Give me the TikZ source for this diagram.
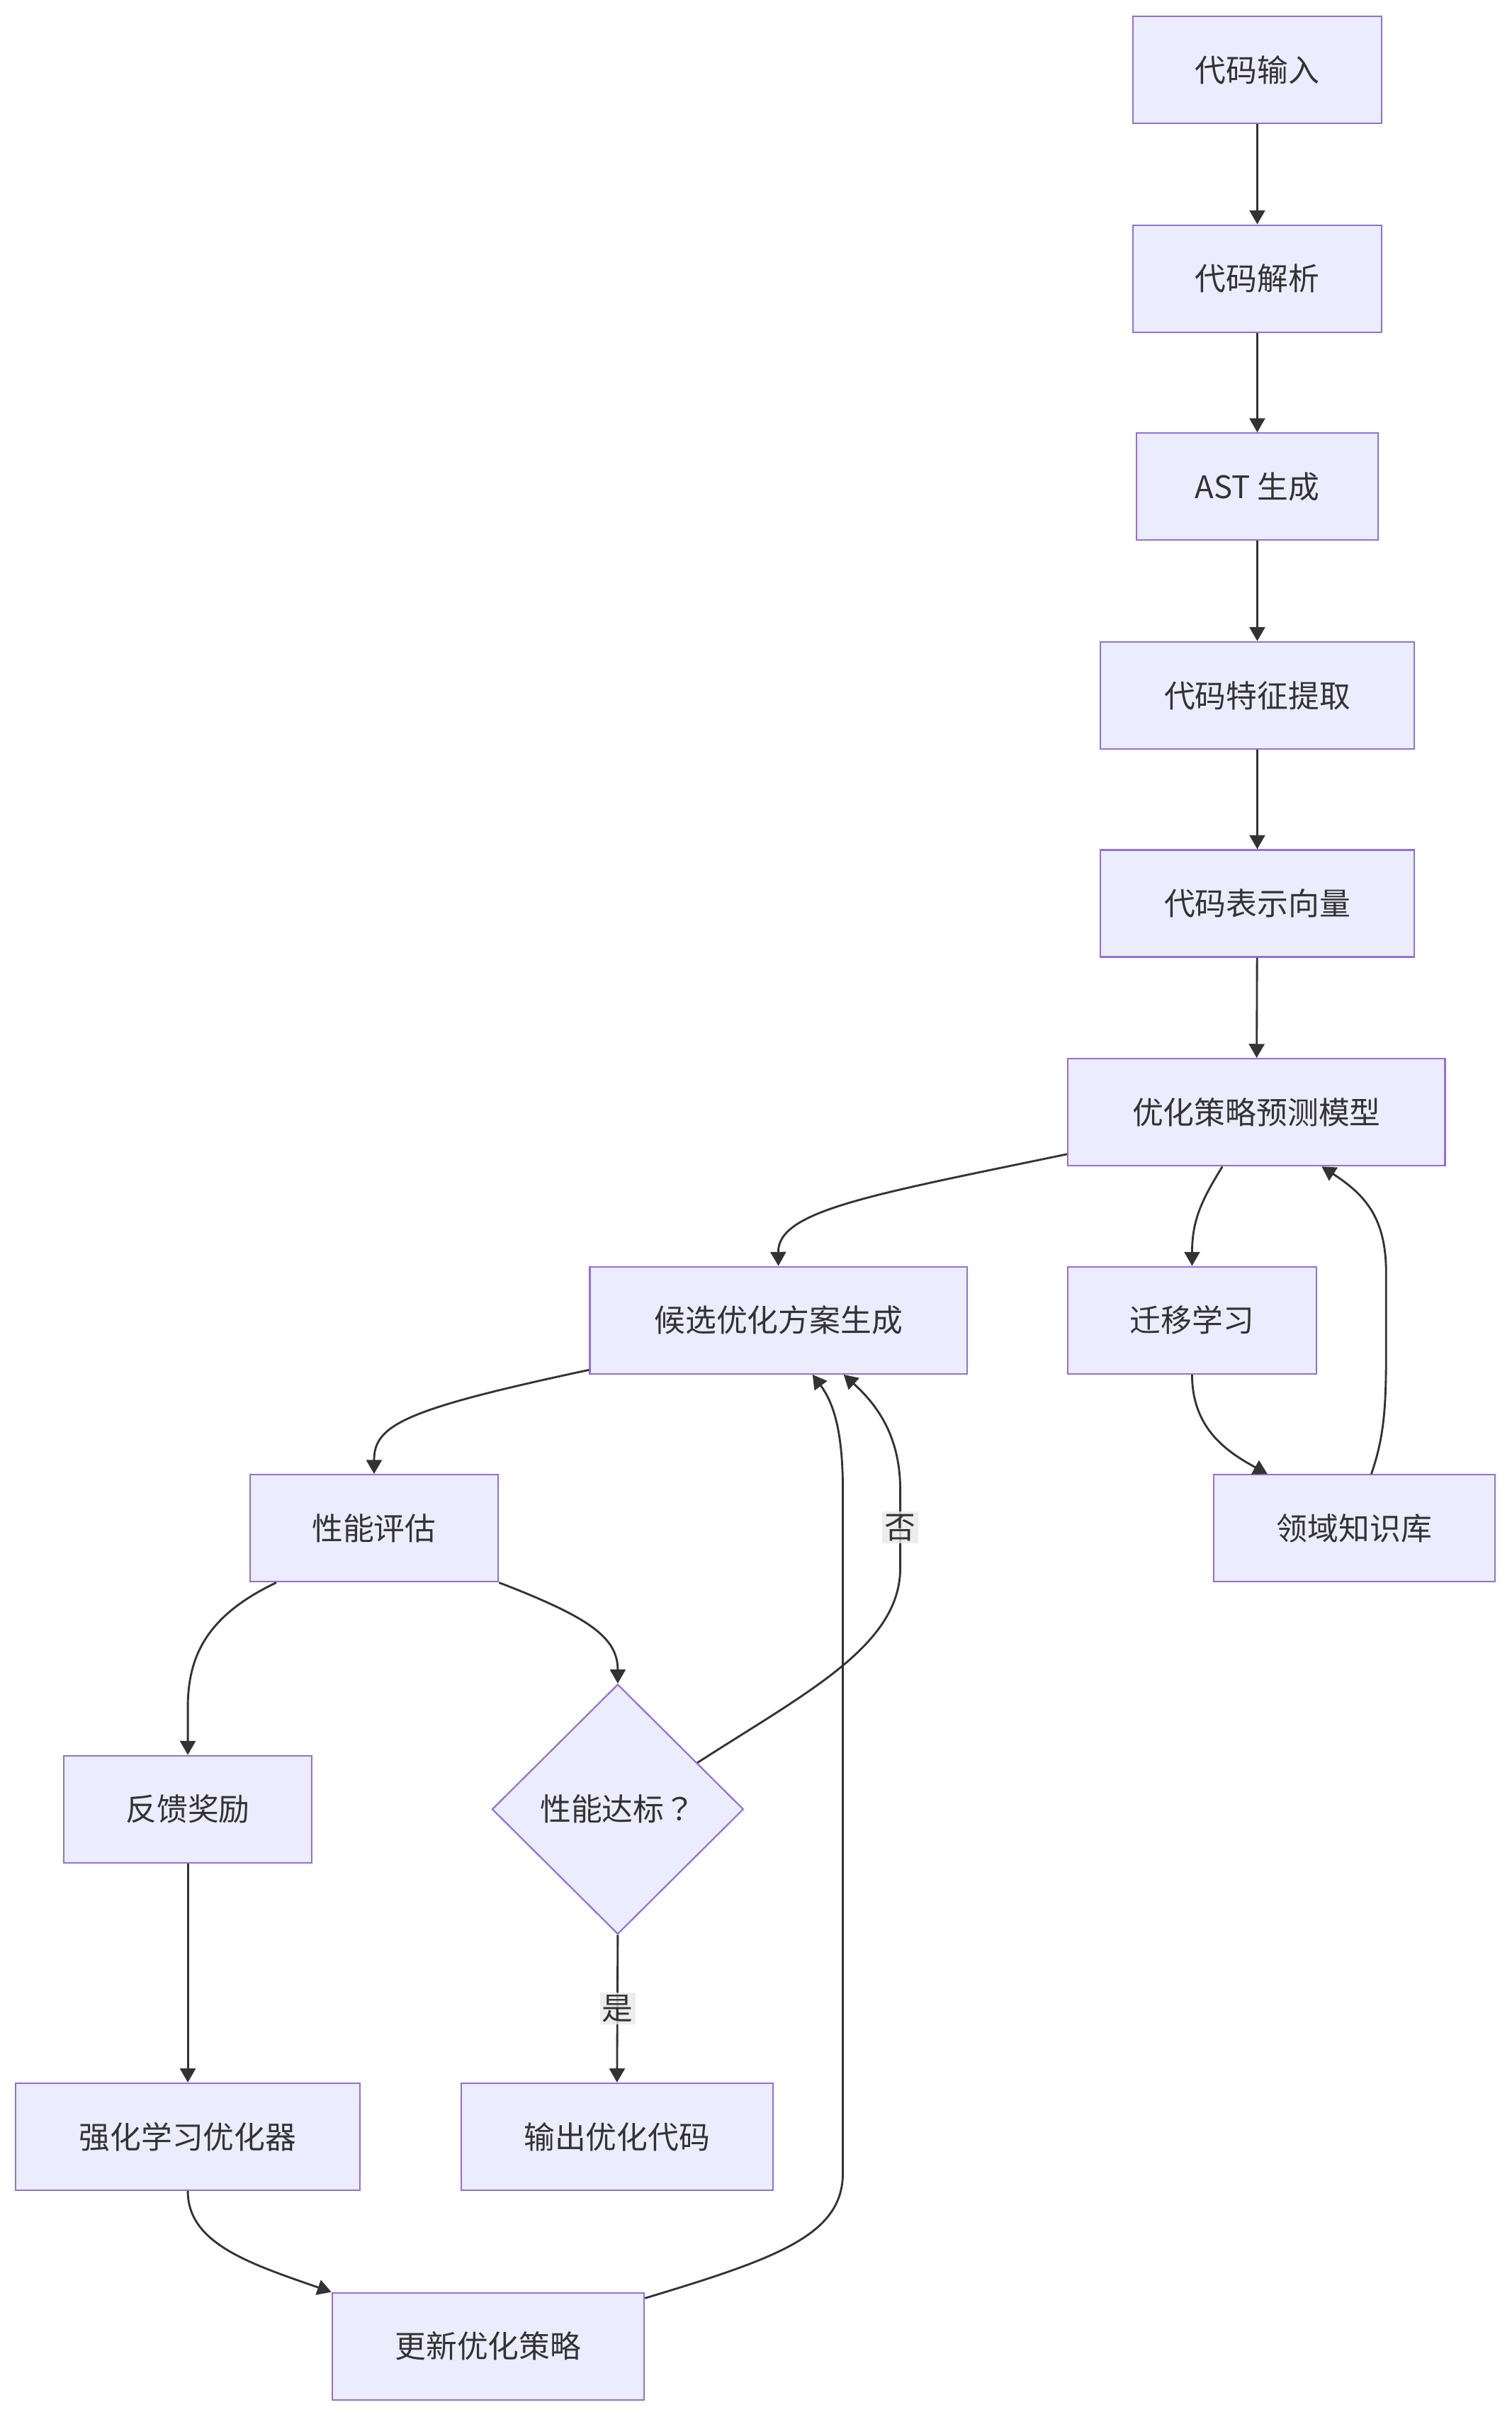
\documentclass[tikz,border=0pt]{standalone}
\usepackage{fontspec}
\setmainfont{Noto Sans CJK SC}
\newfontfamily\tcfont{Noto Sans CJK TC}
\usetikzlibrary{shapes.geometric,arrows.meta,calc}
\definecolor{nodefill}{HTML}{ECECFF}
\definecolor{nodeline}{HTML}{9370DB}
\definecolor{edgecol}{HTML}{333333}
\definecolor{lblfill}{HTML}{E8E8E8}
\begin{document}
\begin{tikzpicture}[x=1pt,y=-1pt,
  box/.style={draw=nodeline, fill=nodefill, line width=1pt, text=edgecol,
    font=\fontsize{20}{24}\selectfont, inner sep=0pt, minimum height=69pt},
  dia/.style={diamond, draw=nodeline, fill=nodefill, line width=1pt, text=edgecol,
    font=\fontsize{20}{24}\selectfont, inner sep=0pt, minimum width=162pt, minimum height=161pt},
  edge/.style={draw=edgecol, line width=1.3pt, -{Triangle[length=9pt,width=10pt]}},
  lbl/.style={fill=lblfill, fill opacity=0.8, text opacity=1, text=edgecol,
    font=\fontsize{20}{24}\selectfont, inner sep=1.5pt}]
\useasboundingbox (0,0) rectangle (974,1568);
\node[box, minimum width=160pt] (n1) at (810,45) {代码输入};
\node[box, minimum width=160pt] (n2) at (810,179.5) {代码解析};
\node[box, minimum width=156pt] (n3) at (810,313.5) {AST 生成};
\node[box, minimum width=202pt] (n4) at (810,448) {代码特征提取};
\node[box, minimum width=202pt] (n5) at (810,582) {代码表示向量};
\node[box, minimum width=243pt] (n6) at (809.5,716.5) {优化策略预测模型};
\node[box, minimum width=243pt] (n7) at (501.5,850.5) {候选优化方案生成};
\node[box, minimum width=160pt] (n8) at (768,850.5) {迁移学习};
\node[box, minimum width=181pt] (n9) at (872.5,984.5) {领域知识库};
\node[box, minimum width=160pt] (n10) at (241,984.5) {性能评估};
\node[box, minimum width=160pt] (n11) at (121,1165.5) {反馈奖励};
\node[dia] (n12) at (398,1165.5) {性能达标{\tcfont ？}};
\node[box, minimum width=222pt] (n13) at (121,1376.5) {强化学习优化器};
\node[box, minimum width=201pt] (n14) at (397.5,1376.5) {输出优化代码};
\node[box, minimum width=201pt] (n15) at (314.5,1511.5) {更新优化策略};

\draw[edge] (n1) -- (n2);
\draw[edge] (n2) -- (n3);
\draw[edge] (n3) -- (n4);
\draw[edge] (n4) -- (n5);
\draw[edge] (n5) -- (n6);
\draw[edge] ([yshift=8pt]n6.south west) .. controls (560,770) and (501,780) .. (n7.north);
\draw[edge] ([xshift=-22pt]n6.south) .. controls (775,772) and (768,785) .. (n8.north);
\draw[edge] (n8.south) .. controls (768,920) and (790,935) .. ([xshift=-56pt]n9.north);
\draw[edge] ([xshift=11pt]n9.north) .. controls (892,925) and (893,905) .. (893,870)
   -- (893,820) .. controls (893,785) and (880,770) .. ([xshift=42pt]n6.south);
\draw[edge] ([yshift=3pt]n7.south west) .. controls (260,908) and (241,918) .. (n10.north);
\draw[edge] ([xshift=-63pt]n10.south) .. controls (135,1040) and (121,1065) .. (121,1100) -- (n11.north);
\draw[edge] (n10.south east) .. controls (380,1042) and (398,1055) .. (n12.north);
\draw[edge] ($(n12.north)!0.63!(n12.east)$) .. controls (520,1090) and (580,1060) .. (580,1010)
   -- (580,960) .. controls (580,925) and (565,905) .. ([xshift=42pt]n7.south);
\draw[edge] (n12.south) -- (n14.north);
\draw[edge] (n11.south) -- (n13.north);
\draw[edge] (n13.south) .. controls (121,1445) and (160,1458) .. (n15.north west);
\draw[edge] ([yshift=-4pt]n15.north east) .. controls (500,1455) and (543,1440) .. (543,1400)
   -- (543,960) .. controls (543,925) and (538,905) .. ([xshift=22pt]n7.south);
\node[lbl] (l1) at (580,984) {否};
\node[lbl] (l2) at (398,1294) {是};
\end{tikzpicture}
\end{document}
